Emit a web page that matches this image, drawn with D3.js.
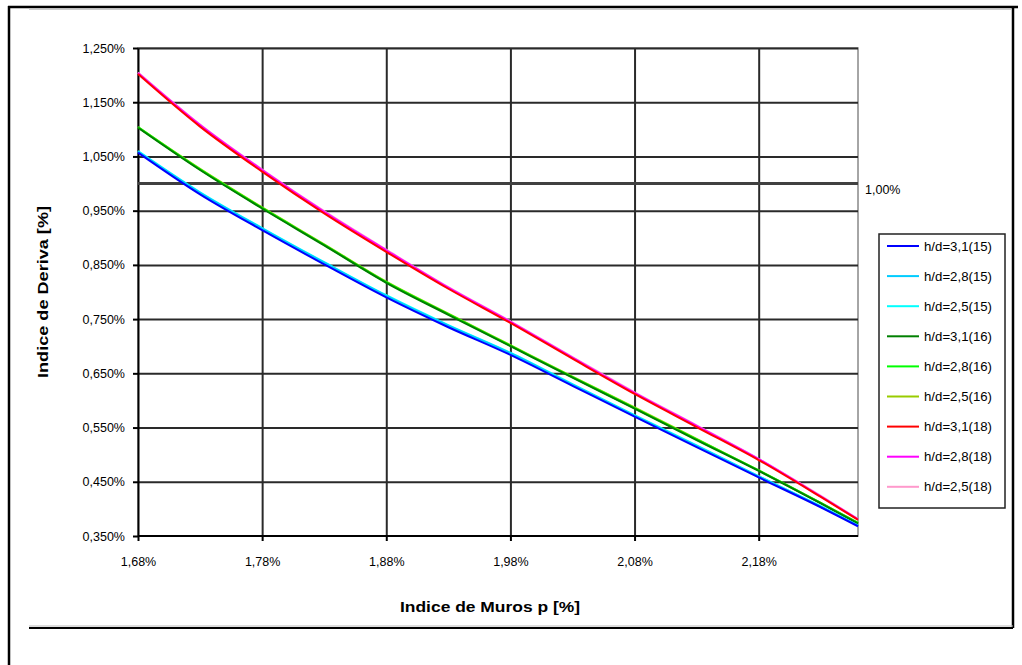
<!DOCTYPE html>
<html><head><meta charset="utf-8">
<script src="https://cdn.jsdelivr.net/npm/d3@7"></script>
<style>
body{margin:0;background:#fff}
text{font-family:"Liberation Sans",Arial,sans-serif;fill:#000}
</style>
</head><body>
<svg id="c" width="1022" height="665"></svg>
<script>
// ---- data ----
const pValues = [1.68, 1.73, 1.78, 1.83, 1.88, 1.93, 1.98, 2.03, 2.08, 2.13, 2.18, 2.23, 2.26];
const seriesNames = ["h/d=3,1(15)","h/d=2,8(15)","h/d=2,5(15)","h/d=3,1(16)","h/d=2,8(16)","h/d=2,5(16)","h/d=3,1(18)","h/d=2,8(18)","h/d=2,5(18)"];
const seriesColors = ["#0000FF","#00CCFF","#00FFFF","#008000","#00FF00","#99CC00","#FF0000","#FF00FF","#FF99CC"];
const hd31_15 = [1.057, 0.980, 0.914, 0.851, 0.790, 0.735, 0.684, 0.627, 0.570, 0.514, 0.458, 0.403, 0.368];
const hd28_15 = [1.059, 0.983, 0.917, 0.854, 0.793, 0.738, 0.687, 0.629, 0.572, 0.516, 0.460, 0.404, 0.369];
const hd25_15 = [1.060, 0.984, 0.918, 0.855, 0.794, 0.739, 0.688, 0.630, 0.573, 0.517, 0.460, 0.405, 0.369];
const hd31_16 = [1.103, 1.025, 0.954, 0.886, 0.817, 0.758, 0.700, 0.642, 0.585, 0.527, 0.470, 0.410, 0.373];
const hd28_16 = [1.104, 1.026, 0.955, 0.887, 0.818, 0.759, 0.701, 0.643, 0.586, 0.528, 0.471, 0.411, 0.374];
const hd25_16 = [1.104, 1.027, 0.956, 0.888, 0.819, 0.760, 0.702, 0.644, 0.587, 0.529, 0.471, 0.411, 0.374];
const hd31_18 = [1.202, 1.105, 1.022, 0.945, 0.874, 0.806, 0.743, 0.677, 0.612, 0.551, 0.490, 0.422, 0.380];
const hd28_18 = [1.204, 1.108, 1.025, 0.948, 0.877, 0.808, 0.745, 0.679, 0.614, 0.553, 0.492, 0.423, 0.381];
const hd25_18 = [1.205, 1.109, 1.026, 0.949, 0.878, 0.809, 0.746, 0.680, 0.615, 0.554, 0.492, 0.424, 0.381];
const seriesValues = [hd31_15, hd28_15, hd25_15, hd31_16, hd28_16, hd25_16, hd31_18, hd28_18, hd25_18];
const yTicks = [0.35, 0.45, 0.55, 0.65, 0.75, 0.85, 0.95, 1.05, 1.15, 1.25];
const xTicks = [1.68, 1.78, 1.88, 1.98, 2.08, 2.18];
const limitValue = 1.00;
const limitLabel = "1,00%";
const xTitle = "Indice de Muros p [%]";
const yTitle = "Indice de Deriva [%]";

// ---- layout ----
const svg = d3.select("#c");
const L = 138, R = 858, T = 48, B = 536;
const x = d3.scaleLinear().domain([1.68, 2.26]).range([L, R]);
const y = d3.scaleLinear().domain([0.35, 1.25]).range([B, T]);
const fmtY = v => d3.format(".3f")(v).replace(".", ",") + "%";
const fmtX = v => d3.format(".2f")(v).replace(".", ",") + "%";

// outer frame
svg.append("line").attr("x1",8).attr("x2",1018).attr("y1",7).attr("y2",7).attr("stroke","#000").attr("stroke-width",2.5);
svg.append("line").attr("x1",9).attr("x2",9).attr("y1",6).attr("y2",665).attr("stroke","#000").attr("stroke-width",2.5);
svg.append("line").attr("x1",1013).attr("x2",1013).attr("y1",6).attr("y2",628).attr("stroke","#000").attr("stroke-width",2.5);
svg.append("line").attr("x1",29).attr("x2",1011).attr("y1",9.5).attr("y2",9.5).attr("stroke","#ccc").attr("stroke-width",1);
svg.append("line").attr("x1",29).attr("x2",1013).attr("y1",626).attr("y2",626).attr("stroke","#bbb").attr("stroke-width",1);
svg.append("line").attr("x1",29).attr("x2",1013).attr("y1",628).attr("y2",628).attr("stroke","#000").attr("stroke-width",2);

// plot area border (grey)
svg.append("rect").attr("x",L).attr("y",T).attr("width",R-L).attr("height",B-T)
  .attr("fill","none").attr("stroke","#888").attr("stroke-width",1.5);

// gridlines
const gy = svg.append("g").attr("transform",`translate(${L},0)`)
  .call(d3.axisLeft(y).tickValues(yTicks.slice(1)).tickSize(-(R-L)).tickFormat(""));
gy.select(".domain").remove();
gy.selectAll("line").attr("stroke","#2a2a2a").attr("stroke-width",2);
const gx = svg.append("g").attr("transform",`translate(0,${B})`)
  .call(d3.axisBottom(x).tickValues(xTicks.slice(1)).tickSize(-(B-T)).tickFormat(""));
gx.select(".domain").remove();
gx.selectAll("line").attr("stroke","#2a2a2a").attr("stroke-width",2);

// axes
const ay = svg.append("g").attr("transform",`translate(${L},0)`)
  .call(d3.axisLeft(y).tickValues(yTicks).tickSize(5).tickSizeOuter(0).tickPadding(8).tickFormat(fmtY));
ay.select(".domain").attr("stroke","#000").attr("stroke-width",2);
ay.selectAll(".tick line").attr("stroke","#000").attr("stroke-width",2);
ay.selectAll(".tick text").attr("font-size",12.5).attr("font-family","Liberation Sans, Arial, sans-serif").attr("fill","#000");

const ax = svg.append("g").attr("transform",`translate(0,${B})`)
  .call(d3.axisBottom(x).tickValues(xTicks).tickSize(5).tickSizeOuter(0).tickPadding(16).tickFormat(fmtX));
ax.select(".domain").attr("stroke","#000").attr("stroke-width",2).attr("d",`M${L},0H${R}`);
ax.selectAll(".tick line").attr("stroke","#000").attr("stroke-width",2);
ax.selectAll(".tick text").attr("font-size",12.5).attr("font-family","Liberation Sans, Arial, sans-serif").attr("fill","#000");

// limit line
svg.append("line").attr("x1",x(1.68)).attr("x2",x(2.26)).attr("y1",y(limitValue)).attr("y2",y(limitValue))
  .attr("stroke","#404040").attr("stroke-width",3);
svg.append("text").attr("x",x(2.26)+7).attr("y",y(limitValue)+10).attr("font-size",12.5).text(limitLabel);

// series (drawn so that the h/d=3,1 series of each group stays visible on top)
const line = d3.line().x((d,i)=>x(pValues[i])).y(d=>y(d)).curve(d3.curveMonotoneX);
const order = [8,7,6,5,4,3,2,1,0];
order.forEach(k=>{
  svg.append("path").datum(seriesValues[k]).attr("d",line).attr("fill","none")
    .attr("stroke",seriesColors[k]).attr("stroke-width",2);
});

// titles
svg.append("text").attr("x",490).attr("y",612).attr("text-anchor","middle")
  .attr("font-size",15).attr("font-weight","bold").attr("textLength",180).attr("lengthAdjust","spacingAndGlyphs").text(xTitle);
svg.append("text").attr("transform",`translate(48,292) rotate(-90)`).attr("text-anchor","middle")
  .attr("font-size",15).attr("font-weight","bold").attr("textLength",172).attr("lengthAdjust","spacingAndGlyphs").text(yTitle);

// legend
const lg = svg.append("g");
lg.append("rect").attr("x",879).attr("y",234).attr("width",126).attr("height",274)
  .attr("fill","#fff").attr("stroke","#222").attr("stroke-width",1.5);
seriesNames.forEach((n,k)=>{
  const yy = 246 + k*30.1;
  lg.append("line").attr("x1",887).attr("x2",919).attr("y1",yy).attr("y2",yy)
    .attr("stroke",seriesColors[k]).attr("stroke-width",2);
  lg.append("text").attr("x",924).attr("y",yy+4.5).attr("font-size",13).attr("textLength",68).attr("lengthAdjust","spacingAndGlyphs").text(n);
});
</script>
</body></html>
